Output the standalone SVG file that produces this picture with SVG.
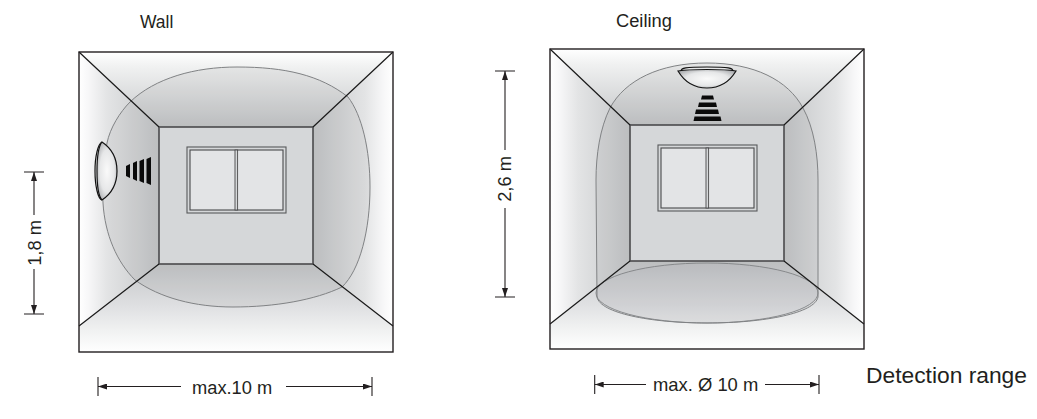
<svg xmlns="http://www.w3.org/2000/svg" width="1037" height="419" viewBox="0 0 1037 419">
<style>
.t{font-family:"Liberation Sans",Arial,sans-serif;fill:#231f20}
.edge{fill:none;stroke:#231f20;stroke-width:1.4}
.diag{fill:none;stroke:#1a1a1a;stroke-width:1.2}
.back{fill:#d5d7d9;stroke:#4a4a4c;stroke-width:1.6}
.zone{fill:#6d7073;fill-opacity:.09;stroke:#808284;stroke-width:1}
.dim{fill:none;stroke:#231f20;stroke-width:1.1}
.arr{fill:#231f20}
.bar{fill:#0a0a0a}
.dome{fill:url(#domeG);stroke:#111;stroke-width:1.2}
</style>
<defs>
<linearGradient id="wl" x1="0" x2="1" y1="0" y2="0"><stop offset="0" stop-color="#fff"/><stop offset=".12" stop-color="#f7f7f8"/><stop offset=".35" stop-color="#e3e4e5"/><stop offset="1" stop-color="#c4c6c8"/></linearGradient>
<linearGradient id="wr" x1="1" x2="0" y1="0" y2="0"><stop offset="0" stop-color="#fff"/><stop offset=".12" stop-color="#f7f7f8"/><stop offset=".35" stop-color="#e3e4e5"/><stop offset="1" stop-color="#c4c6c8"/></linearGradient>
<linearGradient id="ct" x1="0" x2="0" y1="0" y2="1"><stop offset="0" stop-color="#fff"/><stop offset=".2" stop-color="#f0f1f1"/><stop offset="1" stop-color="#c4c6c8"/></linearGradient>
<linearGradient id="fl" x1="0" x2="0" y1="1" y2="0"><stop offset="0" stop-color="#fff"/><stop offset=".25" stop-color="#f0f1f1"/><stop offset=".5" stop-color="#e0e1e3"/><stop offset="1" stop-color="#c4c6c8"/></linearGradient>
<radialGradient id="domeG" cx=".5" cy=".5" r=".6"><stop offset="0" stop-color="#fafafa"/><stop offset=".6" stop-color="#e6e7e8"/><stop offset="1" stop-color="#a9abae"/></radialGradient>
<g id="win"><rect x="0" y="0" width="99" height="66" fill="#d5d7d9" stroke="#58595b" stroke-width="1.1"/><rect x="3" y="3" width="93" height="60" fill="#e3e4e6" stroke="#4a4a4c" stroke-width="1.1"/><rect x="48" y="3" width="2.6" height="60" fill="#d5d7d9" stroke="#4a4a4c" stroke-width=".9"/></g>
<marker id="ah" markerWidth="9" markerHeight="6" refX="9" refY="3" orient="auto-start-reverse" markerUnits="userSpaceOnUse"><path class="arr" d="M0 0L9 3L0 6Z"/></marker>
</defs>
<rect width="1037" height="419" fill="#fff"/>
<g id="wall-room">
<polygon points="79,52 159,127 159,264 79,326" fill="url(#wl)"/>
<polygon points="393,52 313,127 313,264 393,326" fill="url(#wr)"/>
<polygon points="79,52 393,52 313,127 159,127" fill="url(#ct)"/>
<polygon points="79,326 159,264 313,264 393,326 393,352 79,352" fill="url(#fl)"/>
<path class="zone" d="M237 67C195 67 155 78 130 102C120 112 110 128 107 143C104 165 102 185 103 203C105 235 117 262 135 280C160 298 195 307 233 307C275 307 315 300 342 287C360 270 370 230 370 187C370 150 362 115 348 97C320 75 285 67 237 67Z"/>
<rect class="back" x="159" y="127" width="154" height="137"/>
<use href="#win" x="187" y="147"/>
<path class="diag" d="M79 52L159 127M393 52L313 127M79 326L159 264M393 326L313 264"/>
<rect class="edge" x="79" y="52" width="314" height="300"/>
</g>
<g id="wall-sensor">
<path d="M102 142C98 144 95 156 95 171C95 186 98 199 102 200" fill="#e6e7e8" stroke="#111" stroke-width="1.2"/>
<path class="dome" d="M102 142C111 148 117 158 117 171C117 184 111 194 102 200C98 196 97 184 97 171C97 158 98 147 102 142Z"/>
<polygon class="bar" points="126,166 130,164 130,178 126,176"/>
<polygon class="bar" points="133,163 137,161 137,181 133,179"/>
<polygon class="bar" points="139.500,161 144,159 144,183 139.500,181"/>
<polygon class="bar" points="146.500,159 151,157 151,185 146.500,183"/>
</g>
<g id="ceiling-room">
<polygon points="550,49 630,125 630,261 550,324" fill="url(#wl)"/>
<polygon points="864,49 784,125 784,261 864,324" fill="url(#wr)"/>
<polygon points="550,49 864,49 784,125 630,125" fill="url(#ct)"/>
<polygon points="550,324 630,261 784,261 864,324 864,349 550,349" fill="url(#fl)"/>
<path class="zone" d="M707 63C660 63 625 80 610 108C600 128 596 155 596 180L597 297C600 313 650 323 707 323C765 323 815 313 818 297L818 180C818 155 814 128 803 108C788 80 754 63 707 63Z"/>
<rect class="back" x="630" y="125" width="154" height="136"/>
<ellipse cx="707" cy="293" rx="111" ry="30" fill="#6d7073" fill-opacity=".04" stroke="#808284" stroke-width=".9"/>
<use href="#win" x="658" y="145"/>
<path class="diag" d="M550 49L630 125M864 49L784 125M550 324L630 261M864 324L784 261"/>
<rect class="edge" x="550" y="49" width="314" height="300"/>
</g>
<g id="ceiling-sensor">
<path d="M681 71C681 68 685 67 707 67C729 67 733 68 733 71Z" fill="#e6e7e8" stroke="#111" stroke-width="1.1"/>
<path class="dome" d="M678 71C690 69 724 69 736 71C730 81 720 88 707 88C694 88 684 81 678 71Z"/>
<polygon class="bar" points="702,95.500 713,95.500 714,99.500 701,99.500"/>
<polygon class="bar" points="699,102.500 716,102.500 717,107 698,107"/>
<polygon class="bar" points="696,109.500 718,109.500 719,114 695,114"/>
<polygon class="bar" points="694.500,116.500 720.500,116.500 721.500,121 693.500,121"/>
</g>
<g id="connectors">
<path class="dim" d="M98 377V396M372 377V396"/>
<line class="dim" x1="181" y1="386.500" x2="98" y2="386.500" marker-end="url(#ah)"/>
<line class="dim" x1="286" y1="386.500" x2="372" y2="386.500" marker-end="url(#ah)"/>
<path class="dim" d="M594.700 375V394M819 375V394"/>
<line class="dim" x1="646" y1="384.500" x2="594.700" y2="384.500" marker-end="url(#ah)"/>
<line class="dim" x1="765" y1="384.500" x2="819" y2="384.500" marker-end="url(#ah)"/>
<path class="dim" d="M24 172H44M24 314H44"/>
<line class="dim" x1="34" y1="215" x2="34" y2="172" marker-end="url(#ah)"/>
<line class="dim" x1="34" y1="269" x2="34" y2="314" marker-end="url(#ah)"/>
<path class="dim" d="M495 71H515M495 297H515"/>
<line class="dim" x1="505" y1="150" x2="505" y2="71" marker-end="url(#ah)"/>
<line class="dim" x1="505" y1="208" x2="505" y2="297" marker-end="url(#ah)"/>
</g>
<g id="labels">
<text class="t" x="140" y="28" font-size="17.500">Wall</text>
<text class="t" x="616" y="27" font-size="18.300">Ceiling</text>
<text class="t" x="192" y="394" font-size="18.300">max.10 m</text>
<text class="t" x="653" y="391" font-size="18.400">max. Ø 10 m</text>
<text class="t" x="866" y="383" font-size="22.800">Detection range</text>
<text class="t" transform="translate(41 243) rotate(-90)" text-anchor="middle" font-size="18.300">1,8 m</text>
<text class="t" transform="translate(511 179) rotate(-90)" text-anchor="middle" font-size="18.300">2,6 m</text>
</g>
</svg>
